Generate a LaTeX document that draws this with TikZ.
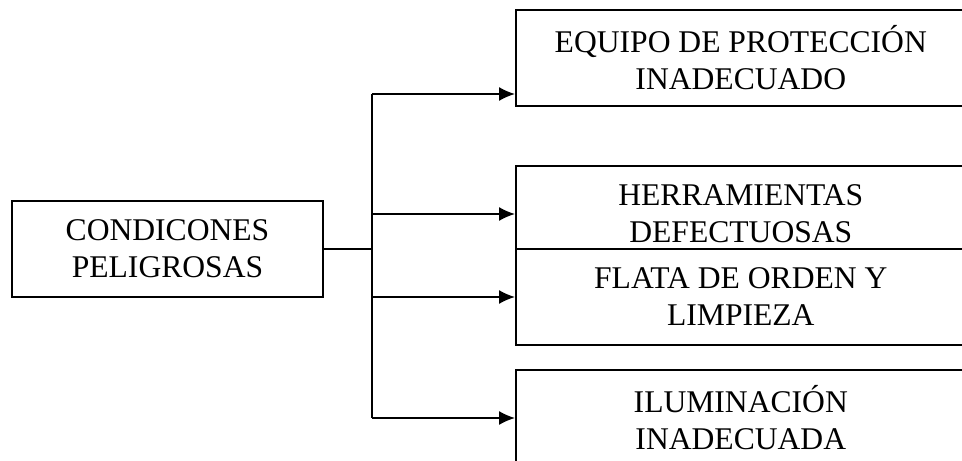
\documentclass[tikz,border=0pt]{standalone}
\usepackage{fontspec}
\setmainfont{Liberation Serif}
\usetikzlibrary{arrows.meta}

\begin{document}
\begin{tikzpicture}[x=0.5pt,y=-0.5pt,>={Latex[length=8pt,width=7pt]},line width=0.8pt,
    caja/.style={draw,fill=white,align=center,inner sep=0pt,minimum height=48pt,
      font=\fontsize{15.8}{18.5}\selectfont},
    causa/.style={caja,minimum width=225pt,anchor=west}]
	\useasboundingbox (0,0) rectangle (962,460);
	\clip (0,0) rectangle (962,460);
	% caja principal
	\node[caja,minimum width=155.5pt] (condic) at (167.5,249) {CONDICONES\\PELIGROSAS};
	% causas (la tercera tapa el borde de la segunda)
	\node[causa] (equipo) at (515,58) {EQUIPO DE PROTECCIÓN\\INADECUADO};
	\node[causa] (herram) at (515,214) {HERRAMIENTAS\\DEFECTUOSAS};
	\node[causa] (flata) at (515,297) {FLATA DE ORDEN Y\\LIMPIEZA};
	\node[causa] (ilumin) at (515,418) {ILUMINACIÓN\\INADECUADA};
	% tronco vertical
	\coordinate (troncoA) at (372,94);
	\coordinate (troncoB) at (372,418);
	\draw (condic.east) -- (condic.east -| troncoA);
	\draw (troncoA) -- (troncoB);
	% flechas
	\draw[->] (troncoA) -- (troncoA -| equipo.west);
	\draw[->] (troncoA |- herram.west) -- (herram.west);
	\draw[->] (troncoA |- flata.west) -- (flata.west);
	\draw[->] (troncoB) -- (ilumin.west);
\end{tikzpicture}
\end{document}
